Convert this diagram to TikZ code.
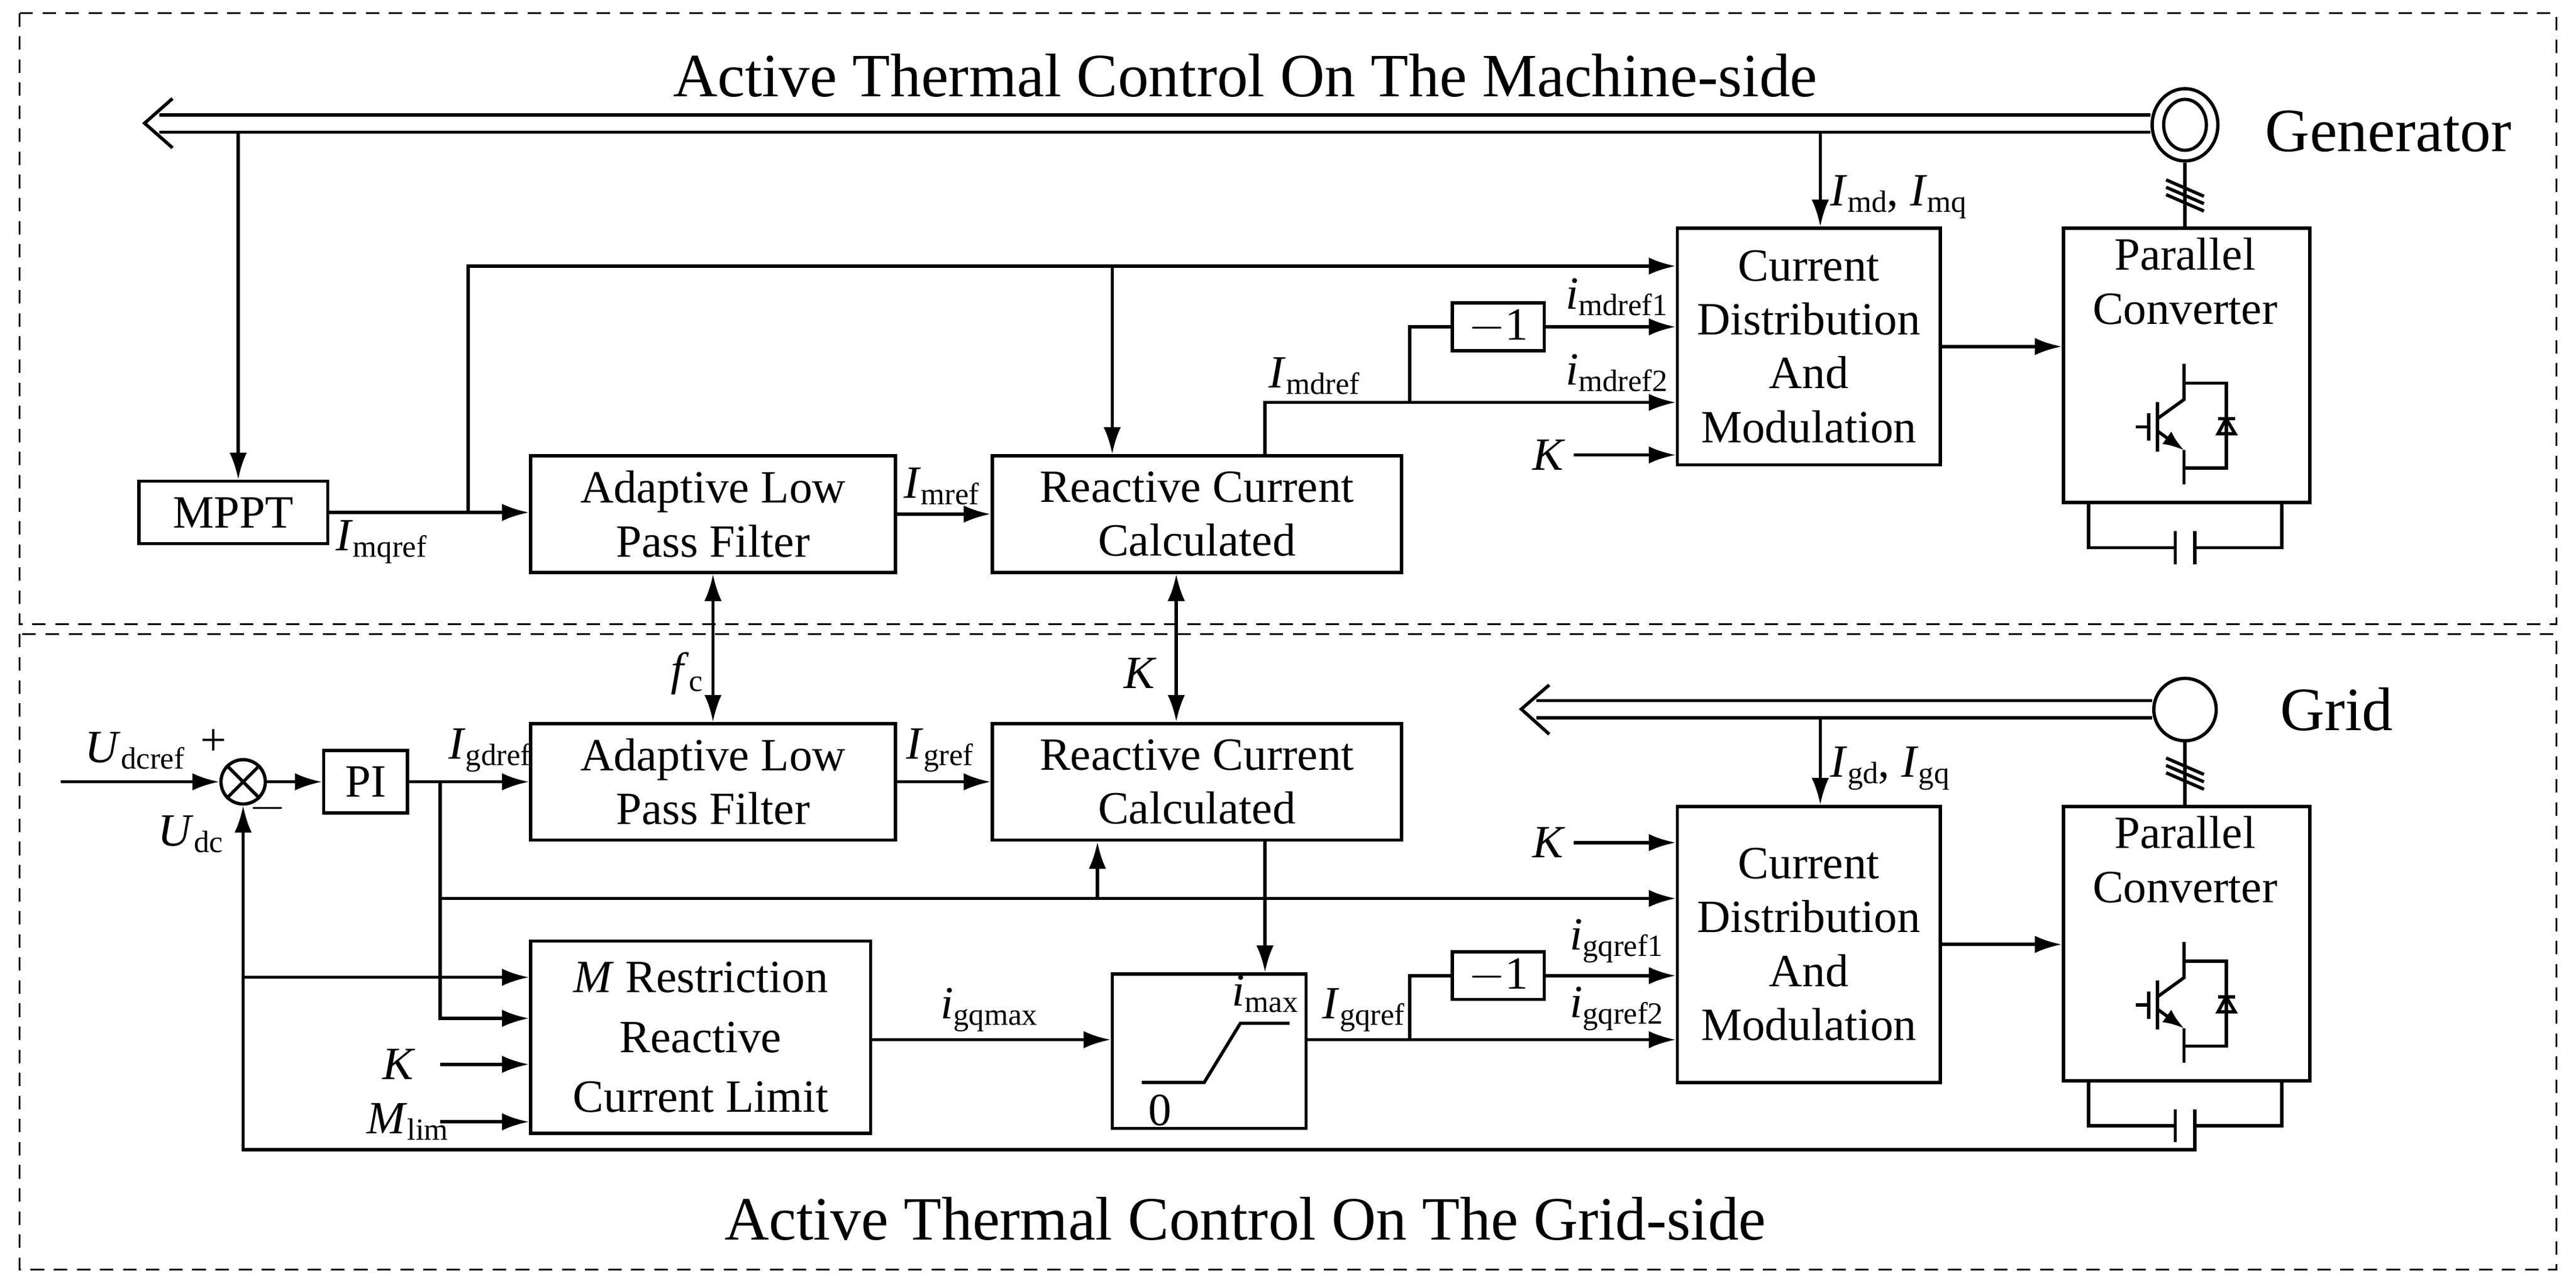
\documentclass[tikz,border=0pt]{standalone}
\usepackage{fontspec}
\setmainfont{Liberation Serif}
\usetikzlibrary{arrows.meta,calc,shapes.geometric}
\newcommand{\lb}[2]{\textit{#1}\raisebox{-0.3ex}{\fontsize{16}{16}\selectfont #2}}
\begin{document}
\begin{tikzpicture}[x=0.03cm,y=-0.03cm,line width=1.7pt,
  blk/.style={draw,line width=1.7pt,minimum width=#1,inner sep=0pt,align=center,font=\fontsize{24}{28}\selectfont},
  lab/.style={font=\fontsize{24}{26}\selectfont,inner sep=1pt},
  ttl/.style={font=\fontsize{32}{34}\selectfont},
  arr/.style={-{Latex[length=14pt,width=9pt]}},
  darr/.style={{Latex[length=14pt,width=9pt]}-{Latex[length=14pt,width=9pt]}},
  frame/.style={draw,dash pattern=on 7pt off 5pt,line width=0.9pt}]
\useasboundingbox (0,0) rectangle (1568,784);
\draw[frame] (12,8) rectangle (1556,380);
\draw[frame] (12,386) rectangle (1556,773);
\node[ttl] (t1) at (758,46) {Active Thermal Control On The Machine-side};
\node[ttl] (t2) at (758,742) {Active Thermal Control On The Grid-side};

% converter pic
\newcommand{\conv}[2]{%
 \begin{scope}[shift={(#1,#2)},x=0.03*150cm,y=-0.03*167cm]
 \draw (0.496,0.50)--(0.496,0.63)--(0.388,0.70);
 \draw (0.388,0.64)--(0.388,0.82);
 \draw (0.352,0.68)--(0.352,0.78) (0.301,0.73)--(0.352,0.73);
 \draw[-{Latex[length=11pt,width=8pt]}] (0.388,0.745)--(0.496,0.815);
 \draw (0.496,0.815)--(0.496,0.94);
 \draw (0.496,0.57)--(0.667,0.57)--(0.667,0.88)--(0.496,0.88);
 \draw (0.634,0.70)--(0.703,0.70) (0.634,0.755)--(0.703,0.755)--(0.667,0.70)--cycle;
 \draw (0.108,1)--(0.108,1.17)--(0.46,1.17) (0.46,1.11)--(0.46,1.23);
 \draw (0.54,1.11)--(0.54,1.23) (0.54,1.17)--(0.893,1.17)--(0.893,1);
 \end{scope}}
\newcommand{\slashes}[2]{%
 \foreach \d in {-4.5,0,4.5} \draw (#1-11.5,#2-5+\d)--(#1+11.5,#2+5+\d);}

%================ TOP
\node[draw,ellipse,minimum width=40*0.03cm,minimum height=44*0.03cm,inner sep=0pt] (gen) at (1330,76) {};
\draw (gen.center) ellipse [x radius=13,y radius=15.5];
\node[ttl,anchor=west] (gtxt) at (1374,80) {Generator};
\node[blk=150*0.03cm,minimum height=167*0.03cm,anchor=north west] (cv1) at (1255,138) {};
\node[blk=1pt,draw=none,anchor=north] at (1330,144) {Parallel\\Converter};
\conv{1255}{138}
\draw (gen.south)--(1330,138);
\slashes{1330}{119}
\coordinate (tip1) at (88,75);
\draw (gen.west|-0,70)--(97,70) (gen.west|-0,80.5)--(97,80.5);
\draw (105,60)--(tip1)--(105,90);

\node[blk=160*0.03cm,minimum height=144*0.03cm,anchor=north west] (cdm1) at (1020,138) {Current\\Distribution\\And\\Modulation};
\draw[arr] (cdm1.east)--(cdm1.east-|cv1.west);
\coordinate (imd) at (1108,81);
\draw[arr] (imd)--(imd|-cdm1.north);
\node[lab,anchor=west] at (1112,120) {\lb{I}{md}, \lb{I}{mq}};

\node[blk=115*0.03cm,minimum height=38*0.03cm] (mppt) at (142,312) {MPPT};
\coordinate (mp) at (145,81);
\draw[arr] (mp)--(mp|-mppt.north);
\node[blk=222*0.03cm,minimum height=71*0.03cm] (alpf1) at (434,313) {Adaptive Low\\Pass Filter};
\node[blk=249*0.03cm,minimum height=71*0.03cm] (rcc1) at (728.5,313) {Reactive Current\\Calculated};
\draw[arr] (mppt.east)--(alpf1.west|-mppt.east);
\node[lab] at (232,330) {\lb{I}{mqref}};
\draw[arr] (285,312)--(285,162)--(cdm1.west|-0,162);
\draw[arr] (677,162)--(677,0|-rcc1.north);
\draw[arr] (alpf1.east)--(rcc1.west);
\node[lab] at (573,296) {\lb{I}{mref}};
\node[blk=56*0.03cm,minimum height=29*0.03cm] (m1a) at (912,199) {$-$1};
\draw[arr] (770,0|-rcc1.north)--(770,245)--(cdm1.west|-0,245);
\draw (858,245)--(858,199)--(m1a.west);
\draw[arr] (m1a.east)--(cdm1.west|-m1a.east);
\node[lab] at (800,229) {\lb{I}{mdref}};
\node[lab] at (984,181) {\lb{i}{mdref1}};
\node[lab] at (984,227) {\lb{i}{mdref2}};
\node[lab] (k1) at (943,277) {\textit{K}};
\draw[arr] (958,277)--(cdm1.west|-0,277);

%================ BOTTOM
\node[blk=222*0.03cm,minimum height=71*0.03cm] (alpf2) at (434,476) {Adaptive Low\\Pass Filter};
\node[blk=249*0.03cm,minimum height=71*0.03cm] (rcc2) at (728.5,476) {Reactive Current\\Calculated};
\draw[darr] (alpf1.south)--(alpf2.north);
\draw[darr] (716,0|-rcc1.south)--(716,0|-rcc2.north);
\node[lab] at (418,410) {\lb{f}{c}};
\node[lab] at (694,410) {\textit{K}};

\node[draw,circle,minimum size=38*0.03cm,inner sep=0pt] (grid) at (1330,432) {};
\node[ttl,anchor=west] at (1383,432) {Grid};
\draw (grid.west|-0,426.5)--(935,426.5) (grid.west|-0,437)--(935,437);
\coordinate (tip2) at (926,431.75);
\draw (943,417)--(tip2)--(943,447);
\node[blk=150*0.03cm,minimum height=167*0.03cm,anchor=north west] (cv2) at (1255,490) {};
\node[blk=1pt,draw=none,anchor=north] at (1330,496) {Parallel\\Converter};
\conv{1255}{490}
\draw (grid.south)--(1330,490);
\slashes{1330}{471}
\node[blk=160*0.03cm,minimum height=168*0.03cm,anchor=north west] (cdm2) at (1020,490) {Current\\Distribution\\And\\Modulation};
\draw[arr] (cdm2.east)--(cdm2.east-|cv2.west);
\coordinate (igd) at (1108,437);
\draw[arr] (igd)--(igd|-cdm2.north);
\node[lab,anchor=west] at (1112,468) {\lb{I}{gd}, \lb{I}{gq}};
\node[lab] at (943,513) {\textit{K}};
\draw[arr] (958,513)--(cdm2.west|-0,513);

\node[draw,circle,minimum size=27*0.03cm,inner sep=0pt] (sum) at (148,476) {};
\draw (sum.north west)--(sum.south east) (sum.north east)--(sum.south west);
\coordinate (uin) at (37,476);
\draw[arr] (uin)--(sum.west);
\node[lab] at (82,457) {\lb{U}{dcref}};
\node[lab] at (130,452) {+};
\node[lab] at (163,492) {$-$};
\node[lab] at (116,508) {\lb{U}{dc}};
\node[blk=51*0.03cm,minimum height=38*0.03cm] (pi) at (222.5,476) {PI};
\draw[arr] (sum.east)--(pi.west);
\draw[arr] (pi.east)--(alpf2.west);
\node[lab] at (298,457) {\lb{I}{gdref}};
\draw[arr] (alpf2.east)--(rcc2.west);
\node[lab] at (572,457) {\lb{I}{gref}};
\draw[arr] (268,476)--(268,547)--(cdm2.west|-0,547);
\draw[arr] (668,547)--(668,0|-rcc2.south);

\node[blk=207*0.03cm,minimum height=117*0.03cm] (mrr) at (426.5,631.5) {\textit{M} Restriction\\[3pt]Reactive\\[3pt]Current Limit};
\draw[arr] (268,547)--(268,620)--(mrr.west|-0,620);
\draw[arr] (148,595)--(mrr.west|-0,595);
\node[lab] at (243,648) {\textit{K}};
\draw[arr] (268,648)--(mrr.west|-0,648);
\node[lab] at (248,683) {\lb{M}{lim}};
\draw[arr] (268,683)--(mrr.west|-0,683);

\node[blk=118*0.03cm,minimum height=94*0.03cm] (sat) at (736,640) {};
\draw (695,659)--(733,659)--(755,623)--(785,623);
\node[lab] at (706,676) {0};
\node[lab] at (770,605) {\lb{i}{max}};
\draw[arr] (770,0|-rcc2.south)--(770,0|-sat.north);
\draw[arr] (mrr.east|-0,633)--(sat.west|-0,633);
\node[lab] at (602,615) {\lb{i}{gqmax}};
\node[blk=56*0.03cm,minimum height=29*0.03cm] (m1b) at (912,594) {$-$1};
\draw[arr] (sat.east|-0,633)--(cdm2.west|-0,633);
\draw (858,633)--(858,594)--(m1b.west);
\draw[arr] (m1b.east)--(cdm2.west|-m1b.east);
\node[lab] at (830,615) {\lb{I}{gqref}};
\node[lab] at (984,573) {\lb{i}{gqref1}};
\node[lab] at (984,614) {\lb{i}{gqref2}};

% Udc feedback
\draw[arr] (1336,490+167*1.23)--(1336,700)--(148,700)--(sum.south);
\end{tikzpicture}
\end{document}
